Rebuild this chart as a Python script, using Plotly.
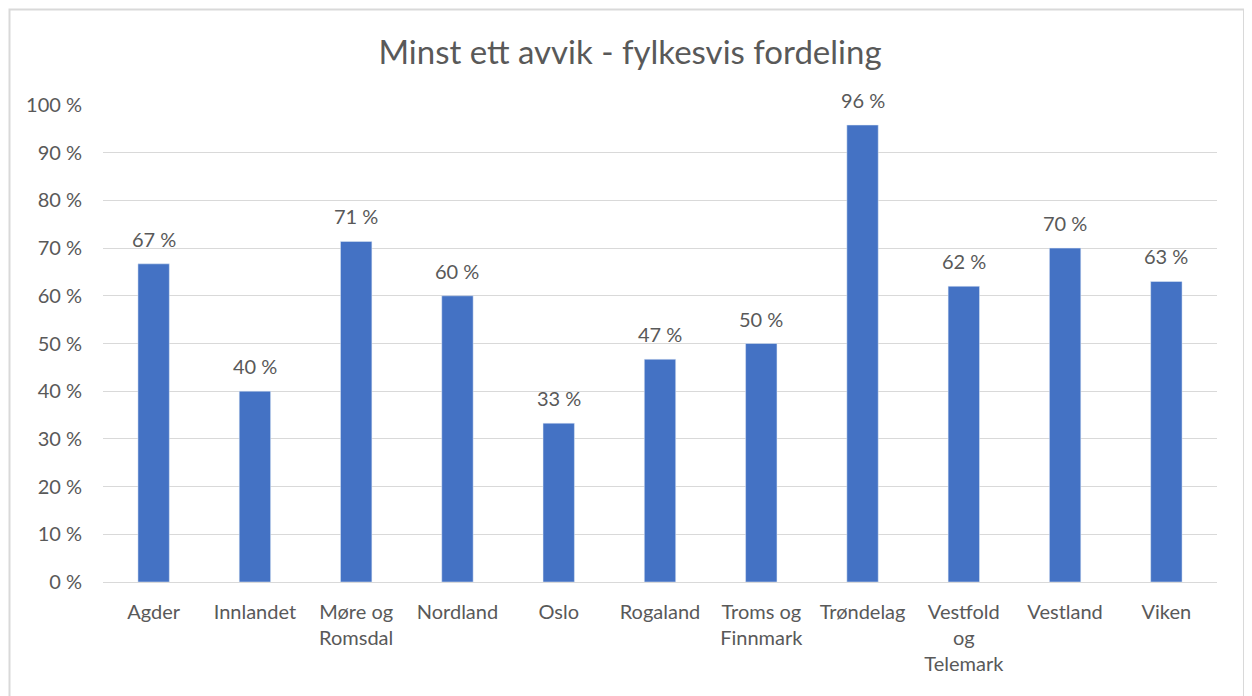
import plotly.graph_objects as go

categories = ["Agder", "Innlandet", "Møre og<br>Romsdal", "Nordland", "Oslo", "Rogaland",
              "Troms og<br>Finnmark", "Trøndelag", "Vestfold<br>og<br>Telemark", "Vestland", "Viken"]
values = [66.7, 40.0, 71.4, 60.0, 33.3, 46.7, 50.0, 95.8, 62.0, 70.0, 63.0]
labels = ["67 %", "40 %", "71 %", "60 %", "33 %", "47 %", "50 %", "96 %", "62 %", "70 %", "63 %"]
yticks = list(range(0, 101, 10))
ytick_text = [f"{v} %" for v in yticks]

# page has an 8px body margin, so the figure is drawn at (8, 8)
W, H = 1244, 688
L, R, T, B = 95, 35, 97, 114
pw, ph = W - L - R, H - T - B

font = "Lato, 'Open Sans', sans-serif"
gray = "#595959"

fig = go.Figure(go.Bar(
    x=categories, y=values,
    marker=dict(color="#4472C4"), cliponaxis=False, width=0.31,
))

annotations = [dict(x=c, y=v, text=t, showarrow=False, xref="x", yref="y",
                    yanchor="bottom", yshift=11,
                    font=dict(size=20, color=gray, family=font))
               for c, v, t in zip(categories, values, labels)]

fig.update_layout(
    width=W, height=H,
    margin=dict(l=L, r=R, t=T, b=B),
    paper_bgcolor="white", plot_bgcolor="white",
    title=dict(text="Minst ett avvik - fylkesvis fordeling", x=0.5, xanchor="center",
               y=1 - 44 / H, yanchor="middle",
               font=dict(size=33, color=gray, family=font)),
    font=dict(family=font, color=gray, size=20),
    showlegend=False,
    annotations=annotations,
    xaxis=dict(showgrid=False, showline=False, ticks="", ticklabelstandoff=16,
               tickfont=dict(size=20, color=gray)),
    yaxis=dict(range=[0, 100], tickvals=yticks, ticktext=ytick_text,
               showgrid=True, gridcolor="#d9d9d9", gridwidth=1.3,
               zeroline=True, zerolinecolor="#d9d9d9", zerolinewidth=1.3,
               showline=False, ticks="", ticklabelstandoff=20,
               tickfont=dict(size=20, color=gray)),
    shapes=[dict(type="rect", xref="paper", yref="paper",
                 x0=(1.5 - L) / pw, x1=(1236 - L) / pw,
                 y0=-(B + 50) / ph, y1=(H - B - 1.5) / ph,
                 line=dict(color="#d9d9d9", width=2), layer="above")],
)

fig.write_html("out.html")
